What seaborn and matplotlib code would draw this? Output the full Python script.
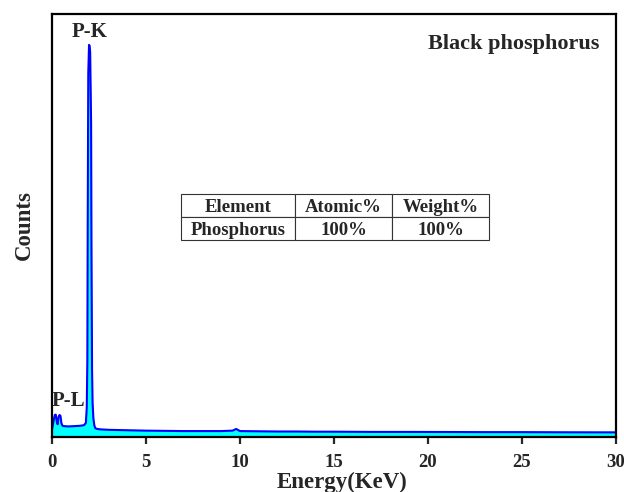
import numpy as np
import pandas as pd
import matplotlib
matplotlib.use("Agg")
import matplotlib.pyplot as plt
import seaborn as sns

# Data
energy = [0.0, 0.05, 0.1, 0.15, 0.2, 0.25, 0.3, 0.35, 0.4, 0.45, 0.5, 0.55, 0.6, 0.7,
          0.9, 1.1, 1.3, 1.5, 1.7, 1.8, 1.85, 1.88, 1.9, 1.93, 1.97, 2.0, 2.03, 2.06,
          2.08, 2.1, 2.13, 2.16, 2.2, 2.25, 2.3, 2.4, 2.6, 3.0, 3.5, 4.0, 4.5, 5.0,
          6.0, 7.0, 8.0, 9.0, 9.6, 9.8, 10.0, 11.0, 12.0, 13.0, 14.0, 15.0, 17.0,
          19.0, 21.0, 23.0, 25.0, 27.0, 29.0, 30.0]
counts = [180, 300, 420, 520, 530, 380, 300, 480, 520, 500, 330, 270, 260, 255,
          250, 255, 260, 265, 280, 330, 700, 1800, 5000, 8600, 9270, 9250, 9100, 8100,
          7400, 4500, 1600, 800, 450, 280, 210, 190, 180, 170, 165, 160, 155, 150,
          145, 140, 140, 140, 150, 190, 140, 135, 130, 130, 125, 125, 120,
          120, 118, 115, 115, 112, 110, 110]

xticks = [0, 5, 10, 15, 20, 25, 30]
table_cols = ["Element", "Atomic%", "Weight%"]
table_row = ["Phosphorus", "100%", "100%"]

df = pd.DataFrame({"Energy": energy, "Counts": counts})

sns.set_style("white")
plt.rcParams['font.family'] = ['Liberation Serif', 'DejaVu Serif']
plt.rcParams['font.weight'] = 'bold'

fig = plt.figure(figsize=(6.24, 4.92), dpi=100)
ax = fig.add_axes([52/624, 55/492, 564/624, 423/492])

ax.fill_between(df["Energy"], 0, df["Counts"], color="#00FFFF", linewidth=0)
sns.lineplot(data=df, x="Energy", y="Counts", ax=ax, color="#0000FF", linewidth=1.5)

ax.set_xlim(0, 30)
ax.set_ylim(0, 10000)
ax.set_xticks(xticks)
ax.set_xticklabels([str(t) for t in xticks], fontsize=13.5, fontweight='bold')
ax.set_yticks([])
ax.tick_params(axis='x', direction='out', length=5, width=1.6, bottom=True, pad=7)
for s in ax.spines.values():
    s.set_linewidth(1.6)
    s.set_color('black')

ax.set_xlabel("Energy(KeV)", fontsize=16.5, fontweight='bold', labelpad=1)
ax.xaxis.set_label_coords(0.514, -0.083)
ax.set_ylabel("Counts", fontsize=16.5, fontweight='bold', labelpad=12)

ax.text(2.0, 9580, "P-K", fontsize=15, fontweight='bold', ha='center', va='center')
ax.text(0.85, 840, "P-L", fontsize=15, fontweight='bold', ha='center', va='center')
ax.text(0.97, 0.928, "Black phosphorus", transform=ax.transAxes, fontsize=16,
        fontweight='bold', ha='right', va='center')

tbl = ax.table(cellText=[table_row], colLabels=table_cols, cellLoc='center',
               colWidths=[114/308, 97/308, 97/308],
               bbox=[129/564, 197/423, 308/564, 46/423])
tbl.auto_set_font_size(False)
for (r, c), cell in tbl.get_celld().items():
    cell.set_linewidth(0.8)
    cell.set_edgecolor('#333333')
    cell.get_text().set_fontsize(13.5)
    cell.get_text().set_fontweight('bold')
    cell.get_text().set_va('center_baseline')

fig.savefig("out.png", dpi=100)
